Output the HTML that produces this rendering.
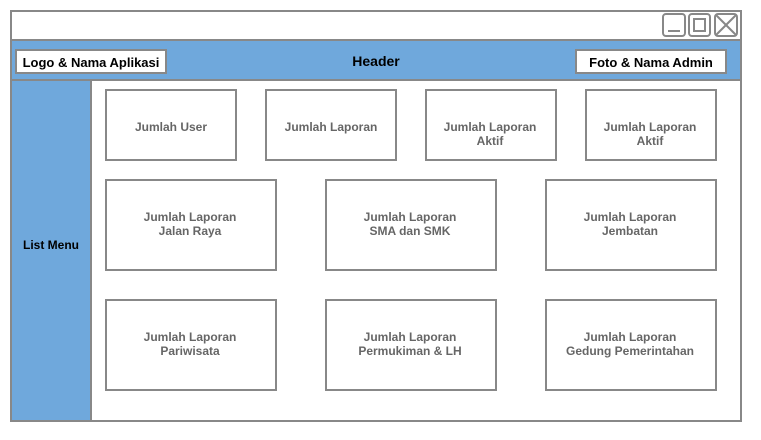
<!DOCTYPE html>
<html><head><meta charset="utf-8"><style>
html,body{margin:0;padding:0;background:#fff;width:761px;height:440px;overflow:hidden}
text{font-family:"Liberation Sans",Arial,sans-serif;font-weight:bold;font-size:12px}
.g{fill:#666}
</style></head><body>
<svg width="761" height="440" xmlns="http://www.w3.org/2000/svg">
<rect x="11" y="11" width="730" height="410" fill="#fff" stroke="#888" stroke-width="2"/>
<rect x="11" y="40" width="730" height="40" fill="#6fa8dc" stroke="#888" stroke-width="2"/>
<rect x="11" y="80" width="80" height="341" fill="#6fa8dc" stroke="#888" stroke-width="2"/>
<g fill="#fff" stroke="#888" stroke-width="2">
<rect x="663" y="14" width="22" height="22" rx="3"/>
<rect x="689" y="14" width="21" height="22" rx="3"/>
<rect x="715" y="14" width="22" height="22" rx="3"/>
<line x1="668" y1="31" x2="680" y2="31"/>
<rect x="694" y="19" width="11" height="12" fill="none"/>
<line x1="716" y1="15" x2="736" y2="35"/>
<line x1="736" y1="15" x2="716" y2="35"/>
</g>
<rect x="16" y="50" width="150" height="23" fill="#fff" stroke="#888" stroke-width="2"/>
<text x="91" y="67" text-anchor="middle" style="font-size:13px">Logo &amp; Nama Aplikasi</text>
<rect x="576" y="50" width="150" height="23" fill="#fff" stroke="#888" stroke-width="2"/>
<text x="651" y="67" text-anchor="middle" style="font-size:13px">Foto &amp; Nama Admin</text>
<text x="376" y="66" text-anchor="middle" style="font-size:14px">Header</text>
<text x="51" y="249" text-anchor="middle">List Menu</text>
<g fill="#fff" stroke="#888" stroke-width="2">
<rect x="106" y="90" width="130" height="70"/>
<rect x="266" y="90" width="130" height="70"/>
<rect x="426" y="90" width="130" height="70"/>
<rect x="586" y="90" width="130" height="70"/>
<rect x="106" y="180" width="170" height="90"/>
<rect x="326" y="180" width="170" height="90"/>
<rect x="546" y="180" width="170" height="90"/>
<rect x="106" y="300" width="170" height="90"/>
<rect x="326" y="300" width="170" height="90"/>
<rect x="546" y="300" width="170" height="90"/>
</g>
<g class="g" text-anchor="middle">
<text x="171" y="131">Jumlah User</text>
<text x="331" y="131">Jumlah Laporan</text>
<text x="490" y="131">Jumlah Laporan</text><text x="490" y="145">Aktif</text>
<text x="650" y="131">Jumlah Laporan</text><text x="650" y="145">Aktif</text>
<text x="190" y="221">Jumlah Laporan</text><text x="190" y="235">Jalan Raya</text>
<text x="410" y="221">Jumlah Laporan</text><text x="410" y="235">SMA dan SMK</text>
<text x="630" y="221">Jumlah Laporan</text><text x="630" y="235">Jembatan</text>
<text x="190" y="341">Jumlah Laporan</text><text x="190" y="355">Pariwisata</text>
<text x="410" y="341">Jumlah Laporan</text><text x="410" y="355">Permukiman &amp; LH</text>
<text x="630" y="341">Jumlah Laporan</text><text x="630" y="355">Gedung Pemerintahan</text>
</g>
</svg>
</body></html>
